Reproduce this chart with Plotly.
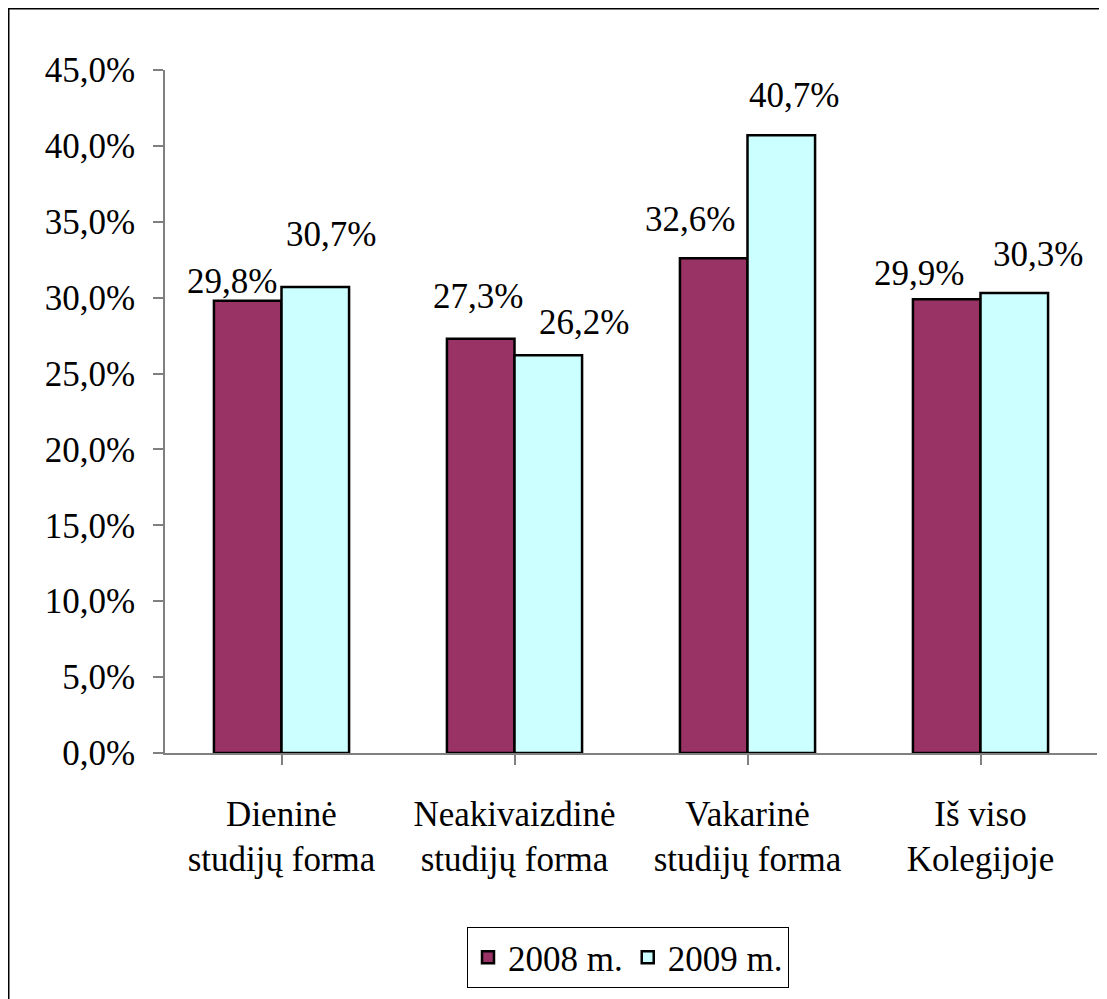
import plotly.graph_objects as go

categories = ['Dieninė<br>studijų forma', 'Neakivaizdinė<br>studijų forma',
              'Vakarinė<br>studijų forma', 'Iš viso<br>Kolegijoje']
series_names = ['2008 m.', '2009 m.']
values_2008 = [0.298, 0.273, 0.326, 0.299]
values_2009 = [0.307, 0.262, 0.407, 0.303]
label_2008 = ['29,8%', '27,3%', '32,6%', '29,9%']
label_2009 = ['30,7%', '26,2%', '40,7%', '30,3%']

# label nudges (px) as placed in the original
nudge_x = [[-16, 16], [-3, 36], [-24, 13], [-28, 24]]
nudge_y = [[7, 40], [30, 20], [26, 27], [13, 26]]

FONT = 'Liberation Serif'
FS = 35
colors = ['#993366', '#CCFFFF']
# page has an 8px body margin, so the figure is a bit smaller than the window
W, H = 1099, 991
L, R, T, B = 157, 10, 62, 246

fig = go.Figure()
for name, vals, col in zip(series_names, [values_2008, values_2009], colors):
    fig.add_trace(go.Bar(
        x=list(range(len(categories))), y=vals, name=name,
        marker=dict(color=col, line=dict(color='black', width=2.5)),
        hoverinfo='skip'
    ))

bargap = 0.42
half = (1 - bargap) / 2
for i in range(len(categories)):
    for j, (labels, vals) in enumerate([(label_2008, values_2008), (label_2009, values_2009)]):
        fig.add_annotation(
            x=i + (j - 0.5) * half, y=vals[i], xref='x', yref='y',
            text=labels[i], showarrow=False, yanchor='bottom',
            xshift=nudge_x[i][j], yshift=nudge_y[i][j] - 9,
            font=dict(family=FONT, size=FS, color='black')
        )

pw, ph = W - L - R, H - T - B
# outer chart frame
fig.add_shape(type='rect', xref='paper', yref='paper',
              x0=(0.75 - L) / pw, x1=(W + 5 - L) / pw,
              y0=(H - B - (H + 5)) / ph, y1=(H - B - 0.75) / ph,
              line=dict(color='black', width=1.5), layer='below')

fig.update_layout(
    width=W, height=H,
    margin=dict(l=L, r=R, t=T, b=B),
    paper_bgcolor='white', plot_bgcolor='white',
    barmode='group', bargap=bargap, bargroupgap=0,
    separators=', ',
    font=dict(family=FONT, size=FS, color='black'),
    showlegend=True,
    legend=dict(orientation='h', x=(620 - L) / pw, xanchor='center',
                y=(H - B - 919) / ph, yanchor='top',
                bordercolor='black', borderwidth=1,
                font=dict(family=FONT, size=FS), itemwidth=30),
    xaxis=dict(
        tickmode='array', tickvals=list(range(len(categories))), ticktext=categories,
        range=[-0.5, len(categories) - 0.5],
        showline=True, linecolor='#808080', linewidth=1.5,
        ticks='outside', ticklen=10, tickcolor='#808080', tickwidth=1.5,
        tickson='boundaries', ticklabelstandoff=19,
        showgrid=False, zeroline=False,
        tickfont=dict(family=FONT, size=FS)
    ),
    yaxis=dict(
        range=[0, 0.45], dtick=0.05, tick0=0, tickformat='.1%',
        showline=True, linecolor='#808080', linewidth=1.5,
        ticks='outside', ticklen=10, tickcolor='#808080', tickwidth=1.5,
        ticklabelstandoff=11,
        showgrid=False, zeroline=False,
        tickfont=dict(family=FONT, size=FS)
    ),
)

fig.write_html('out.html')
